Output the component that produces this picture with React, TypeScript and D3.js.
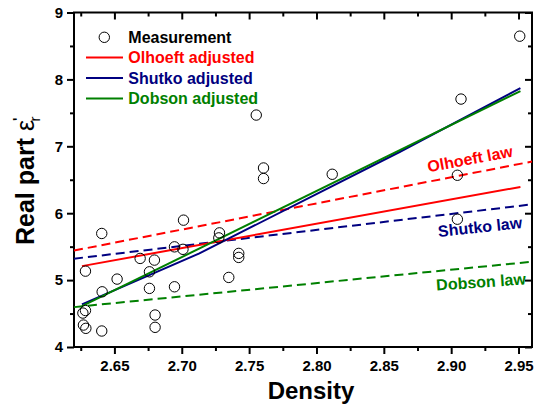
import * as d3 from "d3";
import React, { useEffect, useRef } from "react";

// measured points
const density = [
  2.6266, 2.6285, 2.627, 2.6288, 2.6406, 2.6285, 2.6406, 2.6409, 2.652, 2.6691,
  2.6797, 2.676, 2.676, 2.6802, 2.6802, 2.6946, 2.7009, 2.6946, 2.7013, 2.728,
  2.7275, 2.7349, 2.7423, 2.7423, 2.7553, 2.7607, 2.7607, 2.8117, 2.9046, 2.9046,
  2.9073, 2.9509,
];
const permittivity = [
  4.507, 4.545, 4.328, 4.279, 4.239, 5.134, 5.697, 4.825, 5.015, 5.324,
  5.299, 5.124, 4.876, 4.478, 4.294, 5.497, 5.46, 4.9, 5.896, 5.706,
  5.631, 5.04, 5.399, 5.339, 7.467, 6.676, 6.518, 6.582, 6.567, 5.91,
  7.706, 8.646,
];

// fitted / model curves
const lawDensity = [2.62, 2.96];
const olhoeftLaw = [5.442, 6.772];
const shutkoLaw = [5.32, 6.132];
const dobsonLaw = [4.596, 5.275];

const adjDensity = [2.6259, 2.9514];
const olhoeftAdj = [5.209, 6.393];
const dobsonAdj = [4.612, 7.825];
const shutkoAdjDensity = [2.6259, 2.7131, 2.8617, 2.9514];
const shutkoAdj = [4.637, 5.399, 6.915, 7.87];

const xTicks = [2.65, 2.7, 2.75, 2.8, 2.85, 2.9, 2.95];
const xMinor = [2.625, 2.675, 2.725, 2.775, 2.825, 2.875, 2.925];
const yTicks = [4, 5, 6, 7, 8, 9];
const yMinor = [4.5, 5.5, 6.5, 7.5, 8.5];

const legendItems = ["Olhoeft adjusted", "Shutko adjusted", "Dobson adjusted"];
const lawLabels = ["Olhoeft law", "Shutko law", "Dobson law"];

const RED = "#ff0000";
const BLUE = "#000080";
const GREEN = "#008000";
const FONT = "'Liberation Sans', Arial, sans-serif";

const App = () => {
  const width = 535;
  const height = 407;
  const margin = { left: 74, top: 12.5, right: 3, bottom: 60 };
  const ref = useRef(null);

  useEffect(() => {
    const svg = d3.select(ref.current);
    svg.selectAll("*").remove();

    const chartWidth = width - margin.left - margin.right;
    const chartHeight = height - margin.top - margin.bottom;

    const x = d3.scaleLinear().domain([2.62, 2.96]).range([0, chartWidth]);
    const y = d3.scaleLinear().domain([4, 9]).range([chartHeight, 0]);

    const g = svg
      .append("g")
      .attr("transform", `translate(${margin.left} ${margin.top})`)
      .style("font-family", FONT)
      .style("font-weight", "bold");

    // axes
    const styleAxis = (sel) => {
      sel.select(".domain").remove();
      sel.selectAll("line").attr("stroke", "black").attr("stroke-width", 2);
    };

    const xAxisG = g
      .append("g")
      .attr("transform", `translate(0, ${chartHeight})`)
      .call(d3.axisBottom(x).tickValues(xTicks).tickSize(7).tickPadding(6).tickFormat(d3.format(".2f")));
    styleAxis(xAxisG);
    xAxisG.selectAll("text").attr("font-size", 15).attr("font-family", FONT).attr("fill", "black");

    g.append("g")
      .attr("transform", `translate(0, ${chartHeight})`)
      .call(d3.axisBottom(x).tickValues(xMinor).tickSize(4).tickFormat(() => ""))
      .call(styleAxis);

    const yAxisG = g
      .append("g")
      .call(d3.axisLeft(y).tickValues(yTicks).tickSize(7).tickPadding(4).tickFormat(d3.format("d")));
    styleAxis(yAxisG);
    yAxisG.selectAll("text").attr("font-size", 15).attr("font-family", FONT).attr("fill", "black");

    g.append("g")
      .call(d3.axisLeft(y).tickValues(yMinor).tickSize(4).tickFormat(() => ""))
      .call(styleAxis);

    // top and right, inward ticks
    g.append("g")
      .call(d3.axisBottom(x).tickValues(xTicks).tickSize(7).tickFormat(() => ""))
      .call(styleAxis);
    g.append("g")
      .call(d3.axisBottom(x).tickValues(xMinor).tickSize(4).tickFormat(() => ""))
      .call(styleAxis);
    g.append("g")
      .attr("transform", `translate(${chartWidth}, 0)`)
      .call(d3.axisLeft(y).tickValues(yTicks).tickSize(7).tickFormat(() => ""))
      .call(styleAxis);
    g.append("g")
      .attr("transform", `translate(${chartWidth}, 0)`)
      .call(d3.axisLeft(y).tickValues(yMinor).tickSize(4).tickFormat(() => ""))
      .call(styleAxis);

    g.append("rect")
      .attr("width", chartWidth)
      .attr("height", chartHeight)
      .attr("fill", "none")
      .attr("stroke", "black")
      .attr("stroke-width", 2);

    // curves
    const line = d3
      .line()
      .x((d) => x(d[0]))
      .y((d) => y(d[1]));
    const pair = (xs, ys) => xs.map((d, i) => [d, ys[i]]);

    const curves = [
      { pts: pair(lawDensity, olhoeftLaw), color: RED, dash: "9,5" },
      { pts: pair(lawDensity, shutkoLaw), color: BLUE, dash: "9,5" },
      { pts: pair(lawDensity, dobsonLaw), color: GREEN, dash: "9,5" },
      { pts: pair(adjDensity, olhoeftAdj), color: RED, dash: null },
      { pts: pair(shutkoAdjDensity, shutkoAdj), color: BLUE, dash: null },
      { pts: pair(adjDensity, dobsonAdj), color: GREEN, dash: null },
    ];
    curves.forEach((c) => {
      g.append("path")
        .attr("d", line(c.pts))
        .attr("fill", "none")
        .attr("stroke", c.color)
        .attr("stroke-width", 2)
        .attr("stroke-dasharray", c.dash);
    });

    // measurements
    g.selectAll("circle.pt")
      .data(pair(density, permittivity))
      .join("circle")
      .attr("class", "pt")
      .attr("cx", (d) => x(d[0]))
      .attr("cy", (d) => y(d[1]))
      .attr("r", 5.2)
      .attr("fill", "none")
      .attr("stroke", "black")
      .attr("stroke-width", 1);

    // law labels
    const lawPos = [
      { cx: 470, cy: 159, rot: -10.5, color: RED },
      { cx: 480, cy: 227, rot: -6, color: BLUE },
      { cx: 481, cy: 282, rot: -4, color: GREEN },
    ];
    lawLabels.forEach((t, i) => {
      const p = lawPos[i];
      svg
        .append("text")
        .attr("transform", `translate(${p.cx} ${p.cy}) rotate(${p.rot})`)
        .attr("text-anchor", "middle")
        .attr("dominant-baseline", "central")
        .attr("fill", p.color)
        .style("font-family", FONT)
        .style("font-weight", "bold")
        .style("font-size", "16px")
        .text(t);
    });

    // legend
    const leg = svg.append("g").style("font-family", FONT).style("font-weight", "bold").style("font-size", "16px");
    leg.append("circle").attr("cx", 104.3).attr("cy", 37.3).attr("r", 5.2).attr("fill", "none").attr("stroke", "black");
    leg.append("text").attr("x", 128.3).attr("y", 37.3).attr("dominant-baseline", "central").attr("fill", "black").text("Measurement");
    const legColors = [RED, BLUE, GREEN];
    legendItems.forEach((t, i) => {
      const yy = 57.5 + i * 20.5;
      leg.append("line").attr("x1", 86).attr("x2", 123).attr("y1", yy).attr("y2", yy).attr("stroke", legColors[i]).attr("stroke-width", 2);
      leg.append("text").attr("x", 128.3).attr("y", yy).attr("dominant-baseline", "central").attr("fill", legColors[i]).text(t);
    });

    // axis titles
    svg
      .append("text")
      .attr("x", 311)
      .attr("y", 399)
      .attr("text-anchor", "middle")
      .style("font-family", FONT)
      .style("font-weight", "bold")
      .style("font-size", "24px")
      .text("Density");

    const yl = svg
      .append("text")
      .attr("transform", "translate(34 245) rotate(-90)")
      .style("font-family", FONT)
      .style("font-weight", "bold")
      .style("font-size", "25px");
    yl.append("tspan").text("Real part ");
    yl.append("tspan").style("font-weight", "normal").text("ε");
    yl.append("tspan").attr("dy", -11).attr("dx", -1).style("font-size", "14px").text("'");
    yl.append("tspan").attr("dy", 17).attr("dx", -4).style("font-size", "15px").style("font-weight", "normal").text("r");
  }, []);

  return (
    <svg
      ref={ref}
      width={width}
      height={height}
      style={{ position: "absolute", left: 0, top: 0, background: "white" }}
    ></svg>
  );
};

export default App;
